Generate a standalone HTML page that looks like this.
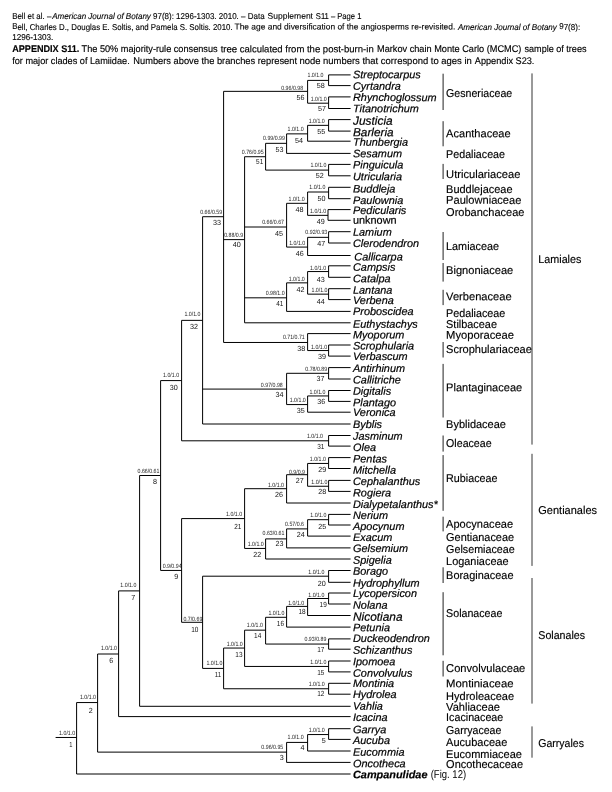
<!DOCTYPE html>
<html lang="en">
<head>
<meta charset="utf-8">
<title>Appendix S11 – Lamiidae consensus tree</title>
<style>
html,body{margin:0;padding:0;background:#fff;}
body{width:612px;height:792px;overflow:hidden;}
svg{display:block;}
text{font-family:"Liberation Sans",sans-serif;fill:#000;text-rendering:geometricPrecision;}
.h{font-size:8.5px;stroke:#000;stroke-width:0.12px;}
.c{font-size:9.7px;stroke:#000;stroke-width:0.15px;}
.i{font-style:italic;}
.bb{font-weight:bold;}
.l{font-size:10.9px;font-style:italic;stroke:#000;stroke-width:0.2px;}
.u{font-style:normal;}
.b{font-weight:bold;}
.fg{font-size:11.3px;}
.f{font-size:11.3px;stroke:#000;stroke-width:0.15px;}
.s{font-size:6.1px;text-anchor:end;fill:#222;}
.n{font-size:7.4px;text-anchor:end;fill:#111;}
.tr{fill:none;stroke:#000;stroke-width:1.0;stroke-linecap:butt;}
.br{fill:none;stroke:#222;stroke-width:1;}
.ob{fill:none;stroke:#000;stroke-width:0.8;}
</style>
</head>
<body>
<svg width="612" height="792" viewBox="0 0 612 792">
<rect width="612" height="792" fill="#fff"/>
<g id="header">
<text class="h" x="12.2" y="18.8" textLength="39.1" lengthAdjust="spacingAndGlyphs" transform="matrix(1 0.0005 0 1 0 -0.0061)">Bell et al. –</text>
<text class="h i" x="52.2" y="18.8" textLength="98.7" lengthAdjust="spacingAndGlyphs" transform="matrix(1 0.0005 0 1 0 -0.0261)">American Journal of Botany</text>
<text class="h" x="153" y="18.8" textLength="111.6" lengthAdjust="spacingAndGlyphs" transform="matrix(1 0.0005 0 1 0 -0.0765)">97(8): 1296-1303. 2010. – Data</text>
<text class="h" x="267.6" y="18.8" textLength="45.4" lengthAdjust="spacingAndGlyphs" transform="matrix(1 0.0005 0 1 0 -0.1338)">Supplement</text>
<text class="h" x="315.8" y="18.8" textLength="45.6" lengthAdjust="spacingAndGlyphs" transform="matrix(1 0.0005 0 1 0 -0.1579)">S11 – Page 1</text>
<text class="h" x="12.2" y="29.5" textLength="220.5" lengthAdjust="spacingAndGlyphs" transform="matrix(1 0.0005 0 1 0 -0.0061)">Bell, Charles D., Douglas E. Soltis, and Pamela S. Soltis. 2010.</text>
<text class="h" x="234.5" y="29.5" textLength="220.8" lengthAdjust="spacingAndGlyphs" transform="matrix(1 0.0005 0 1 0 -0.1173)">The age and diversification of the angiosperms re-revisited.</text>
<text class="h i" x="457.9" y="29.5" textLength="99" lengthAdjust="spacingAndGlyphs" transform="matrix(1 0.0005 0 1 0 -0.2289)">American Journal of Botany</text>
<text class="h" x="559.2" y="29.5" textLength="21" lengthAdjust="spacingAndGlyphs" transform="matrix(1 0.0005 0 1 0 -0.2796)">97(8):</text>
<text class="h" x="12.2" y="40.2" textLength="41.2" lengthAdjust="spacingAndGlyphs" transform="matrix(1 0.0005 0 1 0 -0.0061)">1296-1303.</text>
<text class="c bb" x="12.2" y="52.2" textLength="67.2" lengthAdjust="spacingAndGlyphs" transform="matrix(1 0.0005 0 1 0 -0.0061)">APPENDIX S11.</text>
<text class="c" x="81.6" y="52.2" textLength="136" lengthAdjust="spacingAndGlyphs" transform="matrix(1 0.0005 0 1 0 -0.0408)">The 50% majority-rule consensus</text>
<text class="c" x="220.7" y="52.2" textLength="153" lengthAdjust="spacingAndGlyphs" transform="matrix(1 0.0005 0 1 0 -0.1103)">tree calculated from the post-burn-in</text>
<text class="c" x="377" y="52.2" textLength="144.4" lengthAdjust="spacingAndGlyphs" transform="matrix(1 0.0005 0 1 0 -0.1885)">Markov chain Monte Carlo (MCMC)</text>
<text class="c" x="524.5" y="52.2" textLength="62" lengthAdjust="spacingAndGlyphs" transform="matrix(1 0.0005 0 1 0 -0.2622)">sample of trees</text>
<text class="c" x="12.2" y="63.8" textLength="117.5" lengthAdjust="spacingAndGlyphs" transform="matrix(1 0.0005 0 1 0 -0.0061)">for major clades of Lamiidae.</text>
<text class="c" x="133.3" y="63.8" textLength="163.7" lengthAdjust="spacingAndGlyphs" transform="matrix(1 0.0005 0 1 0 -0.0667)">Numbers above the branches represent</text>
<text class="c" x="299.4" y="63.8" textLength="172.4" lengthAdjust="spacingAndGlyphs" transform="matrix(1 0.0005 0 1 0 -0.1497)">node numbers that correspond to ages in</text>
<text class="c" x="474.8" y="63.8" textLength="59.6" lengthAdjust="spacingAndGlyphs" transform="matrix(1 0.0005 0 1 0 -0.2374)">Appendix S23.</text>
</g>
<path class="tr" d="M76.6 702.56V774M76.6 702.56H97.6M76.6 774H350.6M97.6 654V752.11M97.6 654H118.6M97.6 752.11H286.6M118.6 590.9V716.6M118.6 590.9H139.6M118.6 716.6H350.6M139.6 475.51V706.3M139.6 475.51H160.6M139.6 706.3H350.6M160.6 380.58V570.44M160.6 380.58H181.6M160.6 570.44H181.6M181.6 320.36V440.8M181.6 320.36H202.6M181.6 440.8H328.6M202.6 216.71V424M202.6 216.71H223.6M202.6 389.09H286.6M202.6 424H350.6M223.6 91.35V342.48M223.6 91.35H307.6M223.6 239.61H244.6M223.6 342.48H307.6M307.6 80.4V103.2M307.6 80.4H328.6M307.6 103.2H328.6M328.6 74.9V85.6M328.6 74.9H350.6M328.6 85.6H350.6M328.6 96.9V108.5M328.6 96.9H350.6M328.6 108.5H350.6M244.6 156.72V322.8M244.6 156.72H265.6M244.6 227H286.6M244.6 297.82H286.6M244.6 322.8H350.6M265.6 143.34V170.1M265.6 143.34H286.6M265.6 170.1H328.6M286.6 133.87V153.4M286.6 133.87H307.6M286.6 153.4H350.6M307.6 125.35V141.2M307.6 125.35H328.6M307.6 141.2H350.6M328.6 119.6V131.1M328.6 119.6H350.6M328.6 131.1H350.6M328.6 164.4V175.8M328.6 164.4H350.6M328.6 175.8H350.6M286.6 203.32V247.08M286.6 203.32H307.6M286.6 247.08H307.6M307.6 192V215.35M307.6 192H328.6M307.6 215.35H328M328.6 187.3V198.7M328.6 187.3H350.6M328.6 198.7H350.6M328 209.6V220.3M328 209.6H350.6M328 220.3H350.6M307.6 237.35V255.5M307.6 237.35H328.6M307.6 255.5H350.6M328.6 231.7V243M328.6 231.7H350.6M328.6 243H350.6M286.6 282.85V311.4M286.6 282.85H307.6M286.6 311.4H350.6M307.6 271.55V294.15M307.6 271.55H328.6M307.6 294.15H328.6M328.6 265.8V277.3M328.6 265.8H350.6M328.6 277.3H350.6M328.6 288.7V299.6M328.6 288.7H350.6M328.6 299.6H350.6M307.6 333.6V350.55M307.6 333.6H350.6M307.6 350.55H328.6M328.6 345V356.1M328.6 345H350.6M328.6 356.1H350.6M286.6 373.3V404.57M286.6 373.3H328.6M286.6 404.57H307.6M328.6 367.6V379M328.6 367.6H350.6M328.6 379H350.6M307.6 395.95V412.2M307.6 395.95H328.6M307.6 412.2H350.6M328.6 390.5V401.4M328.6 390.5H350.6M328.6 401.4H350.6M328.6 435.5V446.1M328.6 435.5H350.6M328.6 446.1H350.6M181.6 518.58V622.3M181.6 518.58H244.6M181.6 622.3H202.6M244.6 488.7V548.45M244.6 488.7H286.6M244.6 548.45H265.6M286.6 474.7V503M286.6 474.7H307.6M286.6 503H350.6M307.6 463.45V486.25M307.6 463.45H328.6M307.6 486.25H328.6M328.6 457.6V468.5M328.6 457.6H350.6M328.6 468.5H350.6M328.6 480.4V491.4M328.6 480.4H350.6M328.6 491.4H350.6M265.6 538.9V559M265.6 538.9H286.6M265.6 559H350.6M286.6 528.9V547.9M286.6 528.9H307.6M286.6 547.9H350.6M307.6 519.7V536.1M307.6 519.7H328.6M307.6 536.1H350.6M328.6 514.4V525M328.6 514.4H350.6M328.6 525H350.6M202.6 576.2V668.41M202.6 576.2H328.6M202.6 668.41H223.6M328.6 570.5V582.3M328.6 570.5H350.6M328.6 582.3H350.6M223.6 648.06V688.75M223.6 648.06H244.6M223.6 688.75H328.6M244.6 630.17V666.45M244.6 630.17H265.6M244.6 666.45H328.6M265.6 617.3V644.05M265.6 617.3H286.6M265.6 644.05H328.6M286.6 606.4V627.1M286.6 606.4H307.6M286.6 627.1H350.6M307.6 598.5V615.5M307.6 598.5H328.6M307.6 615.5H350.6M328.6 593V604M328.6 593H350.6M328.6 604H350.6M328.6 638.9V649.2M328.6 638.9H350.6M328.6 649.2H350.6M328.6 661V671.9M328.6 661H350.6M328.6 671.9H350.6M328.6 683.3V694.2M328.6 683.3H350.6M328.6 694.2H350.6M286.6 742.42V762.4M286.6 742.42H307.6M286.6 762.4H350.6M307.6 734.55V751M307.6 734.55H328.6M307.6 751H350.6M328.6 728.7V739.4M328.6 728.7H350.6M328.6 739.4H350.6M76.6 737.48H55.6"/>
<path class="br" d="M443.1 73.7V110M443.1 121.2V146.3M443.1 163.9V179M443.1 232V260M443.1 263V281.6M443.1 289.8V305.1M443.1 342V357.5M443.1 363.9V417.5M443.1 435.5V451.6M443.1 455.1V510.8M443.1 516.7V531.4M443.1 567.3V583M443.1 592.2V655.3M443.1 660.8V676.5"/>
<path class="ob" d="M532 73.4V444.6M532 453.8V565.9M532 578V703.6M532 726.4V757.7"/>
<g id="support">
<text class="s" x="75.15" y="735.18" textLength="16.04" lengthAdjust="spacingAndGlyphs" transform="matrix(1 0.0005 0 1 0 -0.0376)">1.0/1.0</text>
<text class="n" x="72.55" y="746.58" textLength="3.18" lengthAdjust="spacingAndGlyphs" transform="matrix(1 0.0005 0 1 0 -0.0363)">1</text>
<text class="s" x="96" y="699.06" textLength="16.04" lengthAdjust="spacingAndGlyphs" transform="matrix(1 0.0005 0 1 0 -0.0480)">1.0/1.0</text>
<text class="n" x="92.7" y="712.86" textLength="4" lengthAdjust="spacingAndGlyphs" transform="matrix(1 0.0005 0 1 0 -0.0463)">2</text>
<text class="s" x="116.95" y="650.2" textLength="16.04" lengthAdjust="spacingAndGlyphs" transform="matrix(1 0.0005 0 1 0 -0.0585)">1.0/1.0</text>
<text class="n" x="113.25" y="663.2" textLength="4" lengthAdjust="spacingAndGlyphs" transform="matrix(1 0.0005 0 1 0 -0.0566)">6</text>
<text class="s" x="136.4" y="586.8" textLength="16.04" lengthAdjust="spacingAndGlyphs" transform="matrix(1 0.0005 0 1 0 -0.0682)">1.0/1.0</text>
<text class="n" x="135.2" y="599.6" textLength="4" lengthAdjust="spacingAndGlyphs" transform="matrix(1 0.0005 0 1 0 -0.0676)">7</text>
<text class="s" x="159.45" y="473.21" textLength="21.88" lengthAdjust="spacingAndGlyphs" transform="matrix(1 0.0005 0 1 0 -0.0797)">0.66/0.61</text>
<text class="n" x="156.95" y="484.51" textLength="4" lengthAdjust="spacingAndGlyphs" transform="matrix(1 0.0005 0 1 0 -0.0785)">8</text>
<text class="s" x="179.1" y="376.88" textLength="16.04" lengthAdjust="spacingAndGlyphs" transform="matrix(1 0.0005 0 1 0 -0.0896)">1.0/1.0</text>
<text class="n" x="177.7" y="389.88" textLength="7.99" lengthAdjust="spacingAndGlyphs" transform="matrix(1 0.0005 0 1 0 -0.0888)">30</text>
<text class="s" x="200.45" y="315.66" textLength="16.04" lengthAdjust="spacingAndGlyphs" transform="matrix(1 0.0005 0 1 0 -0.1002)">1.0/1.0</text>
<text class="n" x="198.05" y="329.06" textLength="7.99" lengthAdjust="spacingAndGlyphs" transform="matrix(1 0.0005 0 1 0 -0.0990)">32</text>
<text class="s" x="222.1" y="213.81" textLength="21.88" lengthAdjust="spacingAndGlyphs" transform="matrix(1 0.0005 0 1 0 -0.1110)">0.66/0.59</text>
<text class="n" x="221" y="225.21" textLength="7.99" lengthAdjust="spacingAndGlyphs" transform="matrix(1 0.0005 0 1 0 -0.1105)">33</text>
<text class="s" x="303.1" y="89.85" textLength="21.88" lengthAdjust="spacingAndGlyphs" transform="matrix(1 0.0005 0 1 0 -0.1515)">0.96/0.98</text>
<text class="n" x="304.4" y="99.85" textLength="7.99" lengthAdjust="spacingAndGlyphs" transform="matrix(1 0.0005 0 1 0 -0.1522)">56</text>
<text class="s" x="323.55" y="76.8" textLength="16.04" lengthAdjust="spacingAndGlyphs" transform="matrix(1 0.0005 0 1 0 -0.1618)">1.0/1.0</text>
<text class="n" x="324.75" y="88.5" textLength="7.99" lengthAdjust="spacingAndGlyphs" transform="matrix(1 0.0005 0 1 0 -0.1624)">58</text>
<text class="s" x="326.75" y="100.7" textLength="16.04" lengthAdjust="spacingAndGlyphs" transform="matrix(1 0.0005 0 1 0 -0.1634)">1.0/1.0</text>
<text class="n" x="325.95" y="111.4" textLength="7.99" lengthAdjust="spacingAndGlyphs" transform="matrix(1 0.0005 0 1 0 -0.1630)">57</text>
<text class="s" x="243.15" y="236.71" textLength="18.96" lengthAdjust="spacingAndGlyphs" transform="matrix(1 0.0005 0 1 0 -0.1216)">0.88/0.9</text>
<text class="n" x="240.65" y="247.31" textLength="7.99" lengthAdjust="spacingAndGlyphs" transform="matrix(1 0.0005 0 1 0 -0.1203)">40</text>
<text class="s" x="263.7" y="153.82" textLength="21.88" lengthAdjust="spacingAndGlyphs" transform="matrix(1 0.0005 0 1 0 -0.1318)">0.76/0.95</text>
<text class="n" x="263.3" y="164.02" textLength="7.18" lengthAdjust="spacingAndGlyphs" transform="matrix(1 0.0005 0 1 0 -0.1316)">51</text>
<text class="s" x="284.95" y="140.04" textLength="21.88" lengthAdjust="spacingAndGlyphs" transform="matrix(1 0.0005 0 1 0 -0.1425)">0.99/0.99</text>
<text class="n" x="283.45" y="152.04" textLength="7.99" lengthAdjust="spacingAndGlyphs" transform="matrix(1 0.0005 0 1 0 -0.1417)">53</text>
<text class="s" x="303.6" y="130.77" textLength="16.04" lengthAdjust="spacingAndGlyphs" transform="matrix(1 0.0005 0 1 0 -0.1518)">1.0/1.0</text>
<text class="n" x="303.1" y="142.57" textLength="7.99" lengthAdjust="spacingAndGlyphs" transform="matrix(1 0.0005 0 1 0 -0.1515)">54</text>
<text class="s" x="324.75" y="122.65" textLength="16.04" lengthAdjust="spacingAndGlyphs" transform="matrix(1 0.0005 0 1 0 -0.1624)">1.0/1.0</text>
<text class="n" x="325.25" y="133.55" textLength="7.99" lengthAdjust="spacingAndGlyphs" transform="matrix(1 0.0005 0 1 0 -0.1626)">55</text>
<text class="s" x="326.45" y="167" textLength="16.04" lengthAdjust="spacingAndGlyphs" transform="matrix(1 0.0005 0 1 0 -0.1632)">1.0/1.0</text>
<text class="n" x="323.85" y="177.7" textLength="7.99" lengthAdjust="spacingAndGlyphs" transform="matrix(1 0.0005 0 1 0 -0.1619)">52</text>
<text class="s" x="284.05" y="223.7" textLength="21.88" lengthAdjust="spacingAndGlyphs" transform="matrix(1 0.0005 0 1 0 -0.1420)">0.66/0.67</text>
<text class="n" x="282.95" y="235.9" textLength="7.99" lengthAdjust="spacingAndGlyphs" transform="matrix(1 0.0005 0 1 0 -0.1415)">45</text>
<text class="s" x="304.6" y="200.67" textLength="16.04" lengthAdjust="spacingAndGlyphs" transform="matrix(1 0.0005 0 1 0 -0.1523)">1.0/1.0</text>
<text class="n" x="303.6" y="212.08" textLength="7.99" lengthAdjust="spacingAndGlyphs" transform="matrix(1 0.0005 0 1 0 -0.1518)">48</text>
<text class="s" x="325.35" y="189.1" textLength="16.04" lengthAdjust="spacingAndGlyphs" transform="matrix(1 0.0005 0 1 0 -0.1627)">1.0/1.0</text>
<text class="n" x="325.55" y="200.7" textLength="7.99" lengthAdjust="spacingAndGlyphs" transform="matrix(1 0.0005 0 1 0 -0.1628)">50</text>
<text class="s" x="326.15" y="213.25" textLength="16.04" lengthAdjust="spacingAndGlyphs" transform="matrix(1 0.0005 0 1 0 -0.1631)">1.0/1.0</text>
<text class="n" x="324.75" y="224.25" textLength="7.99" lengthAdjust="spacingAndGlyphs" transform="matrix(1 0.0005 0 1 0 -0.1624)">49</text>
<text class="s" x="305.2" y="244.53" textLength="16.04" lengthAdjust="spacingAndGlyphs" transform="matrix(1 0.0005 0 1 0 -0.1526)">1.0/1.0</text>
<text class="n" x="303.8" y="256.03" textLength="7.99" lengthAdjust="spacingAndGlyphs" transform="matrix(1 0.0005 0 1 0 -0.1519)">46</text>
<text class="s" x="327.25" y="234.45" textLength="21.88" lengthAdjust="spacingAndGlyphs" transform="matrix(1 0.0005 0 1 0 -0.1636)">0.92/0.93</text>
<text class="n" x="325.35" y="246.05" textLength="7.99" lengthAdjust="spacingAndGlyphs" transform="matrix(1 0.0005 0 1 0 -0.1627)">47</text>
<text class="s" x="284.65" y="294.73" textLength="18.96" lengthAdjust="spacingAndGlyphs" transform="matrix(1 0.0005 0 1 0 -0.1423)">0.98/1.0</text>
<text class="n" x="283.45" y="305.82" textLength="7.18" lengthAdjust="spacingAndGlyphs" transform="matrix(1 0.0005 0 1 0 -0.1417)">41</text>
<text class="s" x="304.8" y="280.95" textLength="16.04" lengthAdjust="spacingAndGlyphs" transform="matrix(1 0.0005 0 1 0 -0.1524)">1.0/1.0</text>
<text class="n" x="304.4" y="291.95" textLength="7.99" lengthAdjust="spacingAndGlyphs" transform="matrix(1 0.0005 0 1 0 -0.1522)">42</text>
<text class="s" x="326.15" y="269.65" textLength="16.04" lengthAdjust="spacingAndGlyphs" transform="matrix(1 0.0005 0 1 0 -0.1631)">1.0/1.0</text>
<text class="n" x="324.75" y="281.85" textLength="7.99" lengthAdjust="spacingAndGlyphs" transform="matrix(1 0.0005 0 1 0 -0.1624)">43</text>
<text class="s" x="327.55" y="291.85" textLength="16.04" lengthAdjust="spacingAndGlyphs" transform="matrix(1 0.0005 0 1 0 -0.1638)">1.0/1.0</text>
<text class="n" x="324.75" y="303.85" textLength="7.99" lengthAdjust="spacingAndGlyphs" transform="matrix(1 0.0005 0 1 0 -0.1624)">44</text>
<text class="s" x="304.8" y="338.78" textLength="21.88" lengthAdjust="spacingAndGlyphs" transform="matrix(1 0.0005 0 1 0 -0.1524)">0.71/0.71</text>
<text class="n" x="305.2" y="350.78" textLength="7.99" lengthAdjust="spacingAndGlyphs" transform="matrix(1 0.0005 0 1 0 -0.1526)">38</text>
<text class="s" x="327.15" y="348.65" textLength="16.04" lengthAdjust="spacingAndGlyphs" transform="matrix(1 0.0005 0 1 0 -0.1636)">1.0/1.0</text>
<text class="n" x="325.95" y="359.25" textLength="7.99" lengthAdjust="spacingAndGlyphs" transform="matrix(1 0.0005 0 1 0 -0.1630)">39</text>
<text class="s" x="282.75" y="386.79" textLength="21.88" lengthAdjust="spacingAndGlyphs" transform="matrix(1 0.0005 0 1 0 -0.1414)">0.97/0.98</text>
<text class="n" x="283.45" y="397.39" textLength="7.99" lengthAdjust="spacingAndGlyphs" transform="matrix(1 0.0005 0 1 0 -0.1417)">34</text>
<text class="s" x="327.15" y="370.8" textLength="21.88" lengthAdjust="spacingAndGlyphs" transform="matrix(1 0.0005 0 1 0 -0.1636)">0.78/0.89</text>
<text class="n" x="324.55" y="381" textLength="7.99" lengthAdjust="spacingAndGlyphs" transform="matrix(1 0.0005 0 1 0 -0.1623)">37</text>
<text class="s" x="305.8" y="402.18" textLength="16.04" lengthAdjust="spacingAndGlyphs" transform="matrix(1 0.0005 0 1 0 -0.1529)">1.0/1.0</text>
<text class="n" x="304.8" y="412.77" textLength="7.99" lengthAdjust="spacingAndGlyphs" transform="matrix(1 0.0005 0 1 0 -0.1524)">35</text>
<text class="s" x="325.45" y="394.05" textLength="16.04" lengthAdjust="spacingAndGlyphs" transform="matrix(1 0.0005 0 1 0 -0.1627)">1.0/1.0</text>
<text class="n" x="325.35" y="403.85" textLength="7.99" lengthAdjust="spacingAndGlyphs" transform="matrix(1 0.0005 0 1 0 -0.1627)">36</text>
<text class="s" x="323.05" y="438.3" textLength="16.04" lengthAdjust="spacingAndGlyphs" transform="matrix(1 0.0005 0 1 0 -0.1615)">1.0/1.0</text>
<text class="n" x="324.45" y="449.1" textLength="7.18" lengthAdjust="spacingAndGlyphs" transform="matrix(1 0.0005 0 1 0 -0.1622)">31</text>
<text class="s" x="181.6" y="568.14" textLength="18.96" lengthAdjust="spacingAndGlyphs" transform="matrix(1 0.0005 0 1 0 -0.0908)">0.9/0.94</text>
<text class="n" x="178.3" y="578.74" textLength="4" lengthAdjust="spacingAndGlyphs" transform="matrix(1 0.0005 0 1 0 -0.0891)">9</text>
<text class="s" x="242.15" y="515.88" textLength="16.04" lengthAdjust="spacingAndGlyphs" transform="matrix(1 0.0005 0 1 0 -0.1211)">1.0/1.0</text>
<text class="n" x="241.35" y="528.57" textLength="7.18" lengthAdjust="spacingAndGlyphs" transform="matrix(1 0.0005 0 1 0 -0.1207)">21</text>
<text class="s" x="283.95" y="486.6" textLength="16.04" lengthAdjust="spacingAndGlyphs" transform="matrix(1 0.0005 0 1 0 -0.1420)">1.0/1.0</text>
<text class="n" x="282.95" y="497" textLength="7.99" lengthAdjust="spacingAndGlyphs" transform="matrix(1 0.0005 0 1 0 -0.1415)">26</text>
<text class="s" x="305" y="473.8" textLength="16.04" lengthAdjust="spacingAndGlyphs" transform="matrix(1 0.0005 0 1 0 -0.1525)">0.9/0.9</text>
<text class="n" x="303.8" y="483.5" textLength="7.99" lengthAdjust="spacingAndGlyphs" transform="matrix(1 0.0005 0 1 0 -0.1519)">27</text>
<text class="s" x="325.85" y="461.35" textLength="16.04" lengthAdjust="spacingAndGlyphs" transform="matrix(1 0.0005 0 1 0 -0.1629)">1.0/1.0</text>
<text class="n" x="326.15" y="471.75" textLength="7.99" lengthAdjust="spacingAndGlyphs" transform="matrix(1 0.0005 0 1 0 -0.1631)">29</text>
<text class="s" x="327.35" y="484.45" textLength="16.04" lengthAdjust="spacingAndGlyphs" transform="matrix(1 0.0005 0 1 0 -0.1637)">1.0/1.0</text>
<text class="n" x="326.15" y="494.45" textLength="7.99" lengthAdjust="spacingAndGlyphs" transform="matrix(1 0.0005 0 1 0 -0.1631)">28</text>
<text class="s" x="263.7" y="545.75" textLength="16.04" lengthAdjust="spacingAndGlyphs" transform="matrix(1 0.0005 0 1 0 -0.1318)">1.0/1.0</text>
<text class="n" x="261.3" y="556.75" textLength="7.99" lengthAdjust="spacingAndGlyphs" transform="matrix(1 0.0005 0 1 0 -0.1306)">22</text>
<text class="s" x="284.45" y="535" textLength="21.88" lengthAdjust="spacingAndGlyphs" transform="matrix(1 0.0005 0 1 0 -0.1422)">0.63/0.61</text>
<text class="n" x="283.45" y="546.2" textLength="7.99" lengthAdjust="spacingAndGlyphs" transform="matrix(1 0.0005 0 1 0 -0.1417)">23</text>
<text class="s" x="304" y="525.6" textLength="18.96" lengthAdjust="spacingAndGlyphs" transform="matrix(1 0.0005 0 1 0 -0.1520)">0.57/0.6</text>
<text class="n" x="304.8" y="537.2" textLength="7.99" lengthAdjust="spacingAndGlyphs" transform="matrix(1 0.0005 0 1 0 -0.1524)">24</text>
<text class="s" x="326.35" y="516.8" textLength="16.04" lengthAdjust="spacingAndGlyphs" transform="matrix(1 0.0005 0 1 0 -0.1632)">1.0/1.0</text>
<text class="n" x="326.35" y="528.8" textLength="7.99" lengthAdjust="spacingAndGlyphs" transform="matrix(1 0.0005 0 1 0 -0.1632)">25</text>
<text class="s" x="202.35" y="621.4" textLength="18.96" lengthAdjust="spacingAndGlyphs" transform="matrix(1 0.0005 0 1 0 -0.1012)">0.7/0.69</text>
<text class="n" x="198.35" y="631.6" textLength="7.18" lengthAdjust="spacingAndGlyphs" transform="matrix(1 0.0005 0 1 0 -0.0992)">10</text>
<text class="s" x="324.35" y="573.7" textLength="16.04" lengthAdjust="spacingAndGlyphs" transform="matrix(1 0.0005 0 1 0 -0.1622)">1.0/1.0</text>
<text class="n" x="325.75" y="585.9" textLength="7.99" lengthAdjust="spacingAndGlyphs" transform="matrix(1 0.0005 0 1 0 -0.1629)">20</text>
<text class="s" x="222.5" y="665.51" textLength="16.04" lengthAdjust="spacingAndGlyphs" transform="matrix(1 0.0005 0 1 0 -0.1113)">1.0/1.0</text>
<text class="n" x="221.2" y="677.11" textLength="6.36" lengthAdjust="spacingAndGlyphs" transform="matrix(1 0.0005 0 1 0 -0.1106)">11</text>
<text class="s" x="242.75" y="646.16" textLength="16.04" lengthAdjust="spacingAndGlyphs" transform="matrix(1 0.0005 0 1 0 -0.1214)">1.0/1.0</text>
<text class="n" x="242.55" y="657.16" textLength="7.18" lengthAdjust="spacingAndGlyphs" transform="matrix(1 0.0005 0 1 0 -0.1213)">13</text>
<text class="s" x="262.9" y="626.57" textLength="16.04" lengthAdjust="spacingAndGlyphs" transform="matrix(1 0.0005 0 1 0 -0.1314)">1.0/1.0</text>
<text class="n" x="261.3" y="638.27" textLength="7.18" lengthAdjust="spacingAndGlyphs" transform="matrix(1 0.0005 0 1 0 -0.1306)">14</text>
<text class="s" x="284.45" y="614.9" textLength="16.04" lengthAdjust="spacingAndGlyphs" transform="matrix(1 0.0005 0 1 0 -0.1422)">1.0/1.0</text>
<text class="n" x="284.05" y="626.5" textLength="7.18" lengthAdjust="spacingAndGlyphs" transform="matrix(1 0.0005 0 1 0 -0.1420)">16</text>
<text class="s" x="304.2" y="604.9" textLength="16.04" lengthAdjust="spacingAndGlyphs" transform="matrix(1 0.0005 0 1 0 -0.1521)">1.0/1.0</text>
<text class="n" x="305.6" y="614.1" textLength="7.18" lengthAdjust="spacingAndGlyphs" transform="matrix(1 0.0005 0 1 0 -0.1528)">18</text>
<text class="s" x="324.35" y="596.8" textLength="16.04" lengthAdjust="spacingAndGlyphs" transform="matrix(1 0.0005 0 1 0 -0.1622)">1.0/1.0</text>
<text class="n" x="326.75" y="607.4" textLength="7.18" lengthAdjust="spacingAndGlyphs" transform="matrix(1 0.0005 0 1 0 -0.1634)">19</text>
<text class="s" x="326.35" y="641.25" textLength="21.88" lengthAdjust="spacingAndGlyphs" transform="matrix(1 0.0005 0 1 0 -0.1632)">0.93/0.89</text>
<text class="n" x="324.35" y="651.65" textLength="7.18" lengthAdjust="spacingAndGlyphs" transform="matrix(1 0.0005 0 1 0 -0.1622)">17</text>
<text class="s" x="326.35" y="664.05" textLength="16.04" lengthAdjust="spacingAndGlyphs" transform="matrix(1 0.0005 0 1 0 -0.1632)">1.0/1.0</text>
<text class="n" x="324.35" y="675.45" textLength="7.18" lengthAdjust="spacingAndGlyphs" transform="matrix(1 0.0005 0 1 0 -0.1622)">15</text>
<text class="s" x="324.75" y="686.25" textLength="16.04" lengthAdjust="spacingAndGlyphs" transform="matrix(1 0.0005 0 1 0 -0.1624)">1.0/1.0</text>
<text class="n" x="324.35" y="696.45" textLength="7.18" lengthAdjust="spacingAndGlyphs" transform="matrix(1 0.0005 0 1 0 -0.1622)">12</text>
<text class="s" x="283.25" y="749.51" textLength="21.88" lengthAdjust="spacingAndGlyphs" transform="matrix(1 0.0005 0 1 0 -0.1416)">0.96/0.95</text>
<text class="n" x="283.85" y="760.11" textLength="4" lengthAdjust="spacingAndGlyphs" transform="matrix(1 0.0005 0 1 0 -0.1419)">3</text>
<text class="s" x="303.6" y="738.92" textLength="16.04" lengthAdjust="spacingAndGlyphs" transform="matrix(1 0.0005 0 1 0 -0.1518)">1.0/1.0</text>
<text class="n" x="304.6" y="749.72" textLength="4" lengthAdjust="spacingAndGlyphs" transform="matrix(1 0.0005 0 1 0 -0.1523)">4</text>
<text class="s" x="324.75" y="731.95" textLength="16.04" lengthAdjust="spacingAndGlyphs" transform="matrix(1 0.0005 0 1 0 -0.1624)">1.0/1.0</text>
<text class="n" x="325.75" y="742.55" textLength="4" lengthAdjust="spacingAndGlyphs" transform="matrix(1 0.0005 0 1 0 -0.1629)">5</text>
</g>
<g id="taxa">
<text class="l" x="353" y="78.3" transform="matrix(1 0.0005 0 1 0 -0.1765)">Streptocarpus</text>
<text class="l" x="353" y="89.7" transform="matrix(1 0.0005 0 1 0 -0.1765)">Cyrtandra</text>
<text class="l" x="353" y="101.1" transform="matrix(1 0.0005 0 1 0 -0.1765)">Rhynchoglossum</text>
<text class="l" x="353" y="112.3" transform="matrix(1 0.0005 0 1 0 -0.1765)">Titanotrichum</text>
<text class="l" x="353" y="124.8" style="font-size:11.9px" transform="matrix(1 0.0005 0 1 0 -0.1765)">Justicia</text>
<text class="l" x="353" y="136.3" style="font-size:11.8px" transform="matrix(1 0.0005 0 1 0 -0.1765)">Barleria</text>
<text class="l" x="353" y="145.8" transform="matrix(1 0.0005 0 1 0 -0.1765)">Thunbergia</text>
<text class="l" x="353" y="157.3" transform="matrix(1 0.0005 0 1 0 -0.1765)">Sesamum</text>
<text class="l" x="353" y="168.6" transform="matrix(1 0.0005 0 1 0 -0.1765)">Pinguicula</text>
<text class="l" x="353" y="180.2" transform="matrix(1 0.0005 0 1 0 -0.1765)">Utricularia</text>
<text class="l" x="353" y="192.5" transform="matrix(1 0.0005 0 1 0 -0.1765)">Buddleja</text>
<text class="l" x="353" y="203.9" transform="matrix(1 0.0005 0 1 0 -0.1765)">Paulownia</text>
<text class="l" x="353" y="214" transform="matrix(1 0.0005 0 1 0 -0.1765)">Pedicularis</text>
<text class="l u" x="353" y="223.8" transform="matrix(1 0.0005 0 1 0 -0.1765)">unknown</text>
<text class="l" x="353" y="235.8" transform="matrix(1 0.0005 0 1 0 -0.1765)">Lamium</text>
<text class="l" x="353" y="247.1" transform="matrix(1 0.0005 0 1 0 -0.1765)">Clerodendron</text>
<text class="l" x="354.3" y="260.4" transform="matrix(1 0.0005 0 1 0 -0.1772)">Callicarpa</text>
<text class="l" x="353" y="270.7" transform="matrix(1 0.0005 0 1 0 -0.1765)">Campsis</text>
<text class="l" x="353" y="282.3" transform="matrix(1 0.0005 0 1 0 -0.1765)">Catalpa</text>
<text class="l" x="353" y="293.7" transform="matrix(1 0.0005 0 1 0 -0.1765)">Lantana</text>
<text class="l" x="353" y="304" transform="matrix(1 0.0005 0 1 0 -0.1765)">Verbena</text>
<text class="l" x="353" y="315.1" transform="matrix(1 0.0005 0 1 0 -0.1765)">Proboscidea</text>
<text class="l" x="353" y="327.7" transform="matrix(1 0.0005 0 1 0 -0.1765)">Euthystachys</text>
<text class="l" x="353" y="338.5" transform="matrix(1 0.0005 0 1 0 -0.1765)">Myoporum</text>
<text class="l" x="353" y="349.6" transform="matrix(1 0.0005 0 1 0 -0.1765)">Scrophularia</text>
<text class="l" x="353" y="360" transform="matrix(1 0.0005 0 1 0 -0.1765)">Verbascum</text>
<text class="l" x="353" y="372" transform="matrix(1 0.0005 0 1 0 -0.1765)">Antirhinum</text>
<text class="l" x="353" y="383.4" transform="matrix(1 0.0005 0 1 0 -0.1765)">Callitriche</text>
<text class="l" x="353" y="394.7" transform="matrix(1 0.0005 0 1 0 -0.1765)">Digitalis</text>
<text class="l" x="353" y="406.3" transform="matrix(1 0.0005 0 1 0 -0.1765)">Plantago</text>
<text class="l" x="353" y="416.1" transform="matrix(1 0.0005 0 1 0 -0.1765)">Veronica</text>
<text class="l" x="353" y="428" transform="matrix(1 0.0005 0 1 0 -0.1765)">Byblis</text>
<text class="l" x="353" y="439.7" transform="matrix(1 0.0005 0 1 0 -0.1765)">Jasminum</text>
<text class="l" x="353" y="451" transform="matrix(1 0.0005 0 1 0 -0.1765)">Olea</text>
<text class="l" x="353" y="462.5" transform="matrix(1 0.0005 0 1 0 -0.1765)">Pentas</text>
<text class="l" x="353" y="473.7" transform="matrix(1 0.0005 0 1 0 -0.1765)">Mitchella</text>
<text class="l" x="353" y="485" transform="matrix(1 0.0005 0 1 0 -0.1765)">Cephalanthus</text>
<text class="l" x="353" y="496.6" transform="matrix(1 0.0005 0 1 0 -0.1765)">Rogiera</text>
<text class="l" x="353" y="507.9" transform="matrix(1 0.0005 0 1 0 -0.1765)">Dialypetalanthus*</text>
<text class="l" x="353" y="519.1" transform="matrix(1 0.0005 0 1 0 -0.1765)">Nerium</text>
<text class="l" x="353" y="530.1" transform="matrix(1 0.0005 0 1 0 -0.1765)">Apocynum</text>
<text class="l" x="353" y="541" transform="matrix(1 0.0005 0 1 0 -0.1765)">Exacum</text>
<text class="l" x="353" y="552" transform="matrix(1 0.0005 0 1 0 -0.1765)">Gelsemium</text>
<text class="l" x="353" y="563.7" transform="matrix(1 0.0005 0 1 0 -0.1765)">Spigelia</text>
<text class="l" x="353" y="574.7" transform="matrix(1 0.0005 0 1 0 -0.1765)">Borago</text>
<text class="l" x="353" y="586.8" transform="matrix(1 0.0005 0 1 0 -0.1765)">Hydrophyllum</text>
<text class="l" x="353" y="597.1" transform="matrix(1 0.0005 0 1 0 -0.1765)">Lycopersicon</text>
<text class="l" x="353" y="608.7" transform="matrix(1 0.0005 0 1 0 -0.1765)">Nolana</text>
<text class="l" x="353" y="620.7" style="font-size:11.9px" transform="matrix(1 0.0005 0 1 0 -0.1765)">Nicotiana</text>
<text class="l" x="353" y="631.3" transform="matrix(1 0.0005 0 1 0 -0.1765)">Petunia</text>
<text class="l" x="353" y="642" transform="matrix(1 0.0005 0 1 0 -0.1765)">Duckeodendron</text>
<text class="l" x="353" y="653.7" transform="matrix(1 0.0005 0 1 0 -0.1765)">Schizanthus</text>
<text class="l" x="353" y="665.3" transform="matrix(1 0.0005 0 1 0 -0.1765)">Ipomoea</text>
<text class="l" x="353" y="676.8" transform="matrix(1 0.0005 0 1 0 -0.1765)">Convolvulus</text>
<text class="l" x="353" y="686.9" transform="matrix(1 0.0005 0 1 0 -0.1765)">Montinia</text>
<text class="l" x="353" y="698.1" transform="matrix(1 0.0005 0 1 0 -0.1765)">Hydrolea</text>
<text class="l" x="353" y="709.8" transform="matrix(1 0.0005 0 1 0 -0.1765)">Vahlia</text>
<text class="l" x="353" y="721.1" transform="matrix(1 0.0005 0 1 0 -0.1765)">Icacina</text>
<text class="l" x="353" y="733.3" transform="matrix(1 0.0005 0 1 0 -0.1765)">Garrya</text>
<text class="l" x="353" y="744.1" transform="matrix(1 0.0005 0 1 0 -0.1765)">Aucuba</text>
<text class="l" x="353" y="755.8" transform="matrix(1 0.0005 0 1 0 -0.1765)">Eucommia</text>
<text class="l" x="353" y="767.3" transform="matrix(1 0.0005 0 1 0 -0.1765)">Oncotheca</text>
<text class="fg" x="430.7" y="778.2" textLength="35.4" lengthAdjust="spacingAndGlyphs" transform="matrix(1 0.0005 0 1 0 -0.2153)">(Fig. 12)</text>
<text class="l b" x="353" y="778.2" transform="matrix(1 0.0005 0 1 0 -0.1765)">Campanulidae</text>
</g>
<g id="families">
<text class="f" x="446.1" y="96.65" textLength="66.1" lengthAdjust="spacingAndGlyphs" transform="matrix(1 0.0005 0 1 0 -0.2231)">Gesneriaceae</text>
<text class="f" x="446.1" y="137.35" textLength="64.5" lengthAdjust="spacingAndGlyphs" transform="matrix(1 0.0005 0 1 0 -0.2231)">Acanthaceae</text>
<text class="f" x="446.1" y="157.85" textLength="58.9" lengthAdjust="spacingAndGlyphs" transform="matrix(1 0.0005 0 1 0 -0.2231)">Pedaliaceae</text>
<text class="f" x="446.1" y="177.95" textLength="74.3" lengthAdjust="spacingAndGlyphs" transform="matrix(1 0.0005 0 1 0 -0.2231)">Utriculariaceae</text>
<text class="f" x="446.1" y="192.75" textLength="66.4" lengthAdjust="spacingAndGlyphs" transform="matrix(1 0.0005 0 1 0 -0.2231)">Buddlejaceae</text>
<text class="f" x="446.1" y="203.85" textLength="75.3" lengthAdjust="spacingAndGlyphs" transform="matrix(1 0.0005 0 1 0 -0.2231)">Paulowniaceae</text>
<text class="f" x="446.1" y="216.25" textLength="78.4" lengthAdjust="spacingAndGlyphs" transform="matrix(1 0.0005 0 1 0 -0.2231)">Orobanchaceae</text>
<text class="f" x="446.1" y="249.55" textLength="52.9" lengthAdjust="spacingAndGlyphs" transform="matrix(1 0.0005 0 1 0 -0.2231)">Lamiaceae</text>
<text class="f" x="446.1" y="274.05" textLength="67.2" lengthAdjust="spacingAndGlyphs" transform="matrix(1 0.0005 0 1 0 -0.2231)">Bignoniaceae</text>
<text class="f" x="446.1" y="300.15" textLength="65.5" lengthAdjust="spacingAndGlyphs" transform="matrix(1 0.0005 0 1 0 -0.2231)">Verbenaceae</text>
<text class="f" x="446.1" y="317.25" textLength="59.2" lengthAdjust="spacingAndGlyphs" transform="matrix(1 0.0005 0 1 0 -0.2231)">Pedaliaceae</text>
<text class="f" x="446.1" y="327.95" textLength="50.9" lengthAdjust="spacingAndGlyphs" transform="matrix(1 0.0005 0 1 0 -0.2231)">Stilbaceae</text>
<text class="f" x="446.1" y="338.75" textLength="68" lengthAdjust="spacingAndGlyphs" transform="matrix(1 0.0005 0 1 0 -0.2231)">Myoporaceae</text>
<text class="f" x="446.1" y="352.85" textLength="85.7" lengthAdjust="spacingAndGlyphs" transform="matrix(1 0.0005 0 1 0 -0.2231)">Scrophulariaceae</text>
<text class="f" x="446.1" y="391.15" textLength="76.1" lengthAdjust="spacingAndGlyphs" transform="matrix(1 0.0005 0 1 0 -0.2231)">Plantaginaceae</text>
<text class="f" x="446.1" y="427.95" textLength="59.8" lengthAdjust="spacingAndGlyphs" transform="matrix(1 0.0005 0 1 0 -0.2231)">Byblidaceae</text>
<text class="f" x="446.1" y="447.05" textLength="45.5" lengthAdjust="spacingAndGlyphs" transform="matrix(1 0.0005 0 1 0 -0.2231)">Oleaceae</text>
<text class="f" x="446.1" y="482" textLength="51.4" lengthAdjust="spacingAndGlyphs" transform="matrix(1 0.0005 0 1 0 -0.2231)">Rubiaceae</text>
<text class="f" x="446.1" y="527.85" textLength="67" lengthAdjust="spacingAndGlyphs" transform="matrix(1 0.0005 0 1 0 -0.2231)">Apocynaceae</text>
<text class="f" x="446.1" y="540.95" textLength="68" lengthAdjust="spacingAndGlyphs" transform="matrix(1 0.0005 0 1 0 -0.2231)">Gentianaceae</text>
<text class="f" x="446.1" y="552.85" textLength="68.6" lengthAdjust="spacingAndGlyphs" transform="matrix(1 0.0005 0 1 0 -0.2231)">Gelsemiaceae</text>
<text class="f" x="446.1" y="564.65" textLength="62.5" lengthAdjust="spacingAndGlyphs" transform="matrix(1 0.0005 0 1 0 -0.2231)">Loganiaceae</text>
<text class="f" x="446.1" y="579.15" textLength="67.4" lengthAdjust="spacingAndGlyphs" transform="matrix(1 0.0005 0 1 0 -0.2231)">Boraginaceae</text>
<text class="f" x="446.1" y="617.05" textLength="56.3" lengthAdjust="spacingAndGlyphs" transform="matrix(1 0.0005 0 1 0 -0.2231)">Solanaceae</text>
<text class="f" x="446.1" y="671.95" textLength="79.2" lengthAdjust="spacingAndGlyphs" transform="matrix(1 0.0005 0 1 0 -0.2231)">Convolvulaceae</text>
<text class="f" x="446.1" y="687.25" textLength="67.4" lengthAdjust="spacingAndGlyphs" transform="matrix(1 0.0005 0 1 0 -0.2231)">Montiniaceae</text>
<text class="f" x="446.1" y="700.4" textLength="68" lengthAdjust="spacingAndGlyphs" transform="matrix(1 0.0005 0 1 0 -0.2231)">Hydroleaceae</text>
<text class="f" x="446.1" y="710.75" textLength="53.9" lengthAdjust="spacingAndGlyphs" transform="matrix(1 0.0005 0 1 0 -0.2231)">Vahliaceae</text>
<text class="f" x="446.1" y="720.95" textLength="57.2" lengthAdjust="spacingAndGlyphs" transform="matrix(1 0.0005 0 1 0 -0.2231)">Icacinaceae</text>
<text class="f" x="446.1" y="734.05" textLength="55.3" lengthAdjust="spacingAndGlyphs" transform="matrix(1 0.0005 0 1 0 -0.2231)">Garryaceae</text>
<text class="f" x="446.1" y="745.85" textLength="61.2" lengthAdjust="spacingAndGlyphs" transform="matrix(1 0.0005 0 1 0 -0.2231)">Aucubaceae</text>
<text class="f" x="446.1" y="757.85" textLength="75.9" lengthAdjust="spacingAndGlyphs" transform="matrix(1 0.0005 0 1 0 -0.2231)">Eucommiaceae</text>
<text class="f" x="446.1" y="768.35" textLength="76.9" lengthAdjust="spacingAndGlyphs" transform="matrix(1 0.0005 0 1 0 -0.2231)">Oncothecaceae</text>
<text class="f" x="538.3" y="263.2" textLength="43.1" lengthAdjust="spacingAndGlyphs" transform="matrix(1 0.0005 0 1 0 -0.2692)">Lamiales</text>
<text class="f" x="538.3" y="513.9" textLength="58.7" lengthAdjust="spacingAndGlyphs" transform="matrix(1 0.0005 0 1 0 -0.2692)">Gentianales</text>
<text class="f" x="538.3" y="639" textLength="46.7" lengthAdjust="spacingAndGlyphs" transform="matrix(1 0.0005 0 1 0 -0.2692)">Solanales</text>
<text class="f" x="538.3" y="746.7" textLength="45.6" lengthAdjust="spacingAndGlyphs" transform="matrix(1 0.0005 0 1 0 -0.2692)">Garryales</text>
</g>
</svg>
</body>
</html>
